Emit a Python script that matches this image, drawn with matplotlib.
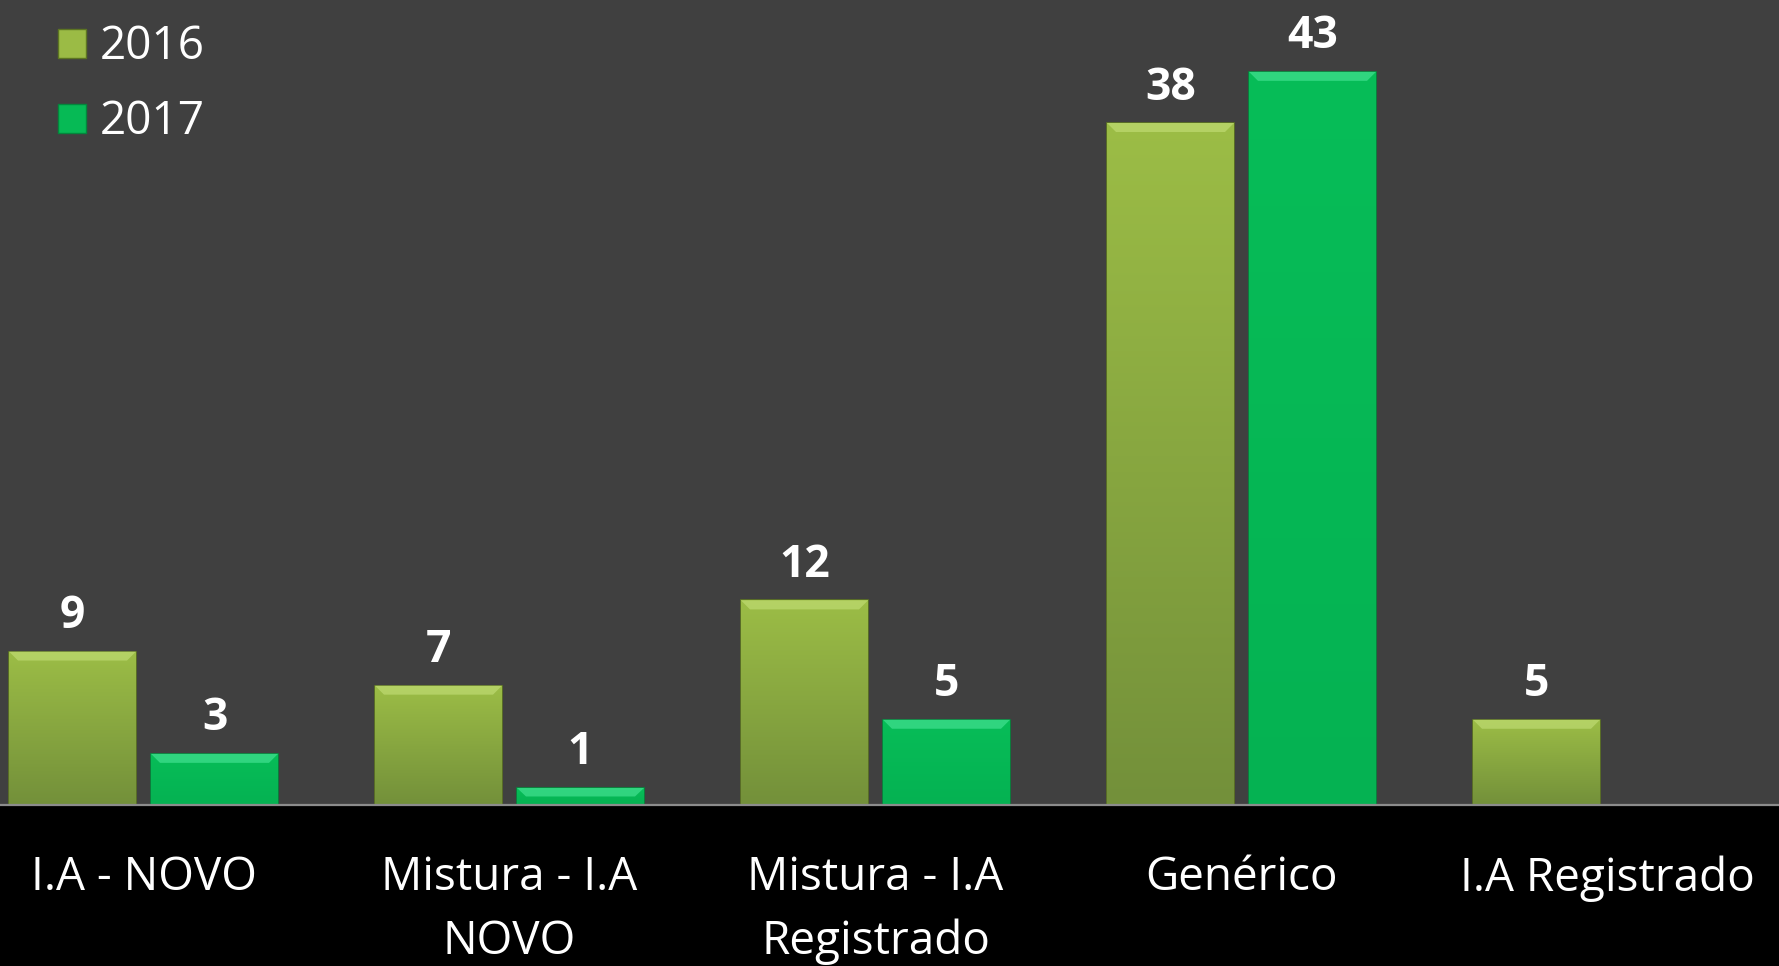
import numpy as np
import matplotlib
matplotlib.use("Agg")
import matplotlib.pyplot as plt
from matplotlib.patches import Patch, Polygon
from matplotlib.colors import LinearSegmentedColormap


##################################
# Data
##################################
categories = ["I.A - NOVO", "Mistura - I.A\nNOVO", "Mistura - I.A\nRegistrado",
              "Genérico", "I.A Registrado"]
series_names = ["2016", "2017"]
bars_2016 = [9, 7, 12, 40, 5]          # bar heights as drawn
bars_2017 = [3, 1, 5, 43, 0]
labels_2016 = ["9", "7", "12", "38", "5"]   # values printed over the bars
labels_2017 = ["3", "1", "5", "43", ""]


##################################
# Figure setup
##################################
W, H = 1779, 966
fig = plt.figure(figsize=(W / 100, H / 100), dpi=100, facecolor="black")
ax = fig.add_axes([0, 161 / H, 1, 805 / H])
ax.set_facecolor("#404040")

px_x = 366.0     # pixels per category
px_y = 17.05     # pixels per unit
ax.set_xlim(-143.5 / px_x, (W - 143.5) / px_x)
ax.set_ylim(0, 805 / px_y)

width = 127 / px_x
offset = 71 / px_x
x = np.arange(len(categories))

cmap_2016 = LinearSegmentedColormap.from_list("c16", ["#73903a", "#9cbd46"])
cmap_2017 = LinearSegmentedColormap.from_list("c17", ["#05b252", "#07bd58"])
styles = [
    (bars_2016, labels_2016, -offset, cmap_2016, "#5d7522", "#c5e07a", "#9bbb45"),
    (bars_2017, labels_2017, offset, cmap_2017, "#03873c", "#4de79b", "#06ba55"),
]

grad = np.linspace(0, 1, 256).reshape(-1, 1)
bev_x = 9 / px_x
bev_y = 9 / px_y

for vals, labs, off, cmap, edge, hilite, base in styles:
    bars = ax.bar(x + off, vals, width, color=base, edgecolor=edge,
                  linewidth=1.2, zorder=2)
    for b, lab in zip(bars, labs):
        h = b.get_height()
        if h <= 0:
            continue
        x0, x1 = b.get_x(), b.get_x() + b.get_width()
        im = ax.imshow(grad, cmap=cmap, aspect="auto", origin="lower",
                       extent=(x0, x1, 0, h), zorder=2.1)
        im.set_clip_path(b)
        # bevel highlight on top edge
        dy = min(bev_y, h * 0.5)
        ax.add_patch(Polygon([(x0, h), (x1, h), (x1 - bev_x, h - dy),
                              (x0 + bev_x, h - dy)], closed=True,
                             facecolor=hilite, edgecolor="none",
                             alpha=0.6, zorder=2.2))
        ax.annotate(lab, (b.get_x() + b.get_width() / 2, h),
                    xytext=(0, 9), textcoords="offset points",
                    ha="center", va="bottom", color="white",
                    fontsize=32, fontweight="bold", family="Open Sans",
                    zorder=3)
    ax.set_xlim(-143.5 / px_x, (W - 143.5) / px_x)

# axes decoration
for s in ["top", "left", "right"]:
    ax.spines[s].set_visible(False)
ax.spines["bottom"].set_color("#8c8c8c")
ax.spines["bottom"].set_linewidth(1.6)
ax.spines["bottom"].set_zorder(4)
ax.set_yticks([])
ax.set_xticks(x)
ax.set_xticklabels(categories, color="white", fontsize=33,
                   family="Open Sans", linespacing=1.5)
ax.tick_params(axis="x", length=0, pad=36)

# legend
handles = [Patch(facecolor=s[6], edgecolor=s[4]) for s in styles]
leg = ax.legend(handles, series_names, loc="upper left",
                bbox_to_anchor=(40 / W, 1 - 6 / 805), frameon=False,
                prop={"family": "Open Sans", "size": 33},
                labelcolor="white", handlelength=0.6, handleheight=0.6,
                handletextpad=0.3, labelspacing=0.63, borderaxespad=0)

fig.savefig("out.png", dpi=100, facecolor=fig.get_facecolor())
